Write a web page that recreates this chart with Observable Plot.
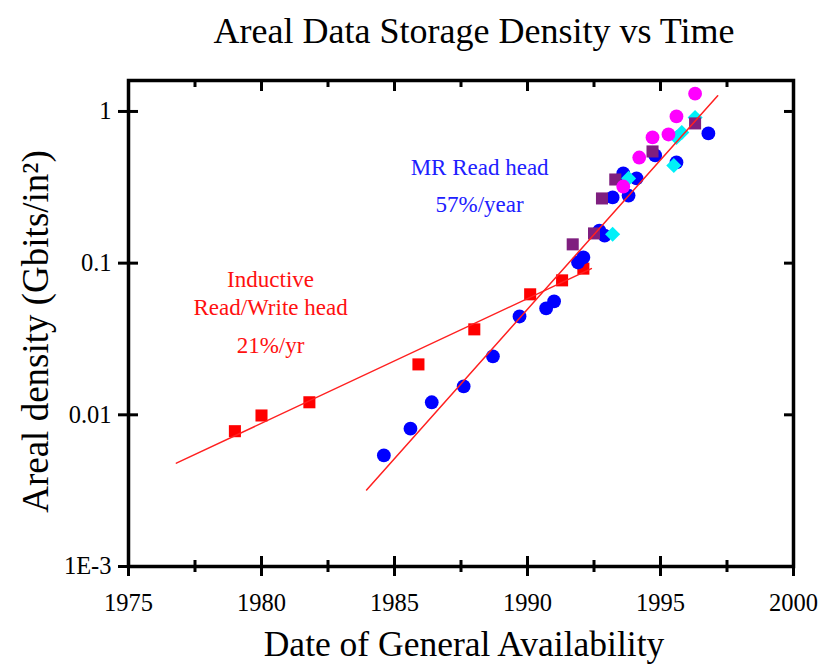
<!DOCTYPE html>
<html><head><meta charset="utf-8">
<script src="https://cdn.jsdelivr.net/npm/d3@7"></script>
<script src="https://cdn.jsdelivr.net/npm/@observablehq/plot@0.6"></script>
<style>
body{margin:0;background:#fff;}
#wrap{width:824px;font-family:"Liberation Serif","Times New Roman",serif;}
#title{height:62px;line-height:62px;font-size:36px;text-align:center;padding-left:124px;box-sizing:border-box;width:824px;color:#000;white-space:nowrap;}
</style></head>
<body><div id="wrap"><div id="title">Areal Data Storage Density vs Time</div><div id="chart"></div></div>
<script>
// ---- data ----
const inductiveYear = [1979.0, 1980.0, 1981.8, 1985.9, 1988.0, 1990.1, 1991.3, 1992.1];
const inductiveDensity = [0.0078, 0.0099, 0.0121, 0.0215, 0.0366, 0.0623, 0.077, 0.092];

const mrYear = [1984.6, 1985.6, 1986.4, 1987.6, 1988.7, 1989.7, 1990.7, 1991.0, 1991.9, 1992.1, 1992.7, 1992.9, 1993.2, 1993.6, 1993.8, 1994.1, 1994.8, 1995.6, 1996.8];
const mrDensity = [0.0054, 0.0081, 0.0121, 0.0154, 0.0243, 0.0445, 0.0503, 0.056, 0.101, 0.109, 0.164, 0.152, 0.271, 0.39, 0.279, 0.362, 0.513, 0.461, 0.716];

const cyanYear = [1993.2, 1993.8, 1995.5, 1995.6, 1995.8, 1996.3];
const cyanDensity = [0.155, 0.362, 0.44, 0.674, 0.727, 0.912];

const purpleYear = [1991.7, 1992.5, 1992.8, 1993.3, 1994.7, 1996.3];
const purpleDensity = [0.133, 0.157, 0.267, 0.356, 0.545, 0.834];

const magentaYear = [1993.6, 1994.2, 1994.7, 1995.3, 1995.6, 1996.3];
const magentaDensity = [0.32, 0.497, 0.674, 0.705, 0.927, 1.31];

// fitted trend lines (end points)
const inductiveFitYear = [1976.8, 1992.4];
const inductiveFitDensity = [0.0048, 0.092];
const mrFitYear = [1983.95, 1997.15];
const mrFitDensity = [0.0032, 1.27];

// annotations
const annoText = ["Inductive", "Read/Write head", "21%/yr", "MR Read head", "57%/year"];
const annoYear = [1980.34, 1980.34, 1980.34, 1988.2, 1988.2];
const annoDensity = [0.0774, 0.0508, 0.0284, 0.424, 0.243];
const annoColor = ["#ff1010", "#ff1010", "#ff1010", "#2020ff", "#2020ff"];

// axis ticks
const xMajor = [1975, 1980, 1985, 1990, 1995, 2000];
const xMinor = [1977.5, 1982.5, 1987.5, 1992.5, 1997.5];
const yMajor = [0.001, 0.01, 0.1, 1];
const yTickLabels = ["1E-3", "0.01", "0.1", "1"];

// ---- build ----
const zip = (xs, ys) => xs.map((x, i) => ({year: x, density: ys[i]}));
const inductive = zip(inductiveYear, inductiveDensity);
const mr = zip(mrYear, mrDensity);
const cyan = zip(cyanYear, cyanDensity);
const purple = zip(purpleYear, purpleDensity);
const magenta = zip(magentaYear, magentaDensity);
const indFit = zip(inductiveFitYear, inductiveFitDensity);
const mrFit = zip(mrFitYear, mrFitDensity);
const annos = annoText.map((t, i) => ({text: t, year: annoYear[i], density: annoDensity[i], color: annoColor[i]}));

const font = "Liberation Serif, Times New Roman, serif";
const blank = () => null;
const tw = 3;

const chart = Plot.plot({
  width: 824, height: 609,
  marginTop: 18, marginBottom: 105, marginLeft: 128, marginRight: 31,
  style: {fontFamily: font, background: "#fff", color: "#000"},
  x: {domain: [1975, 2000]},
  y: {type: "log", domain: [0.001, 1.6]},
  marks: [
    Plot.dot(inductive, {x: "year", y: "density", symbol: "square", r: 6.8, fill: "#ff0000"}),
    Plot.dot(mr, {x: "year", y: "density", symbol: "circle", r: 6.9, fill: "#0000ff"}),
    Plot.dot(cyan, {x: "year", y: "density", symbol: "diamond2", r: 6.8, fill: "#00f0f8"}),
    Plot.dot(purple, {x: "year", y: "density", symbol: "square", r: 6.8, fill: "#7f1f7f"}),
    Plot.dot(magenta, {x: "year", y: "density", symbol: "circle", r: 6.9, fill: "#ff00ff"}),
    Plot.line(indFit, {x: "year", y: "density", stroke: "#ff2020", strokeWidth: 1.5}),
    Plot.line(mrFit, {x: "year", y: "density", stroke: "#ff2020", strokeWidth: 1.5}),
    Plot.text(annos, {x: "year", y: "density", text: "text", fill: "color", fontSize: 23, fontFamily: font}),
    // bottom axis: labels + outward major ticks
    Plot.axisX({anchor: "bottom", ticks: xMajor, tickSize: 10, tickPadding: 17, tickFormat: d => String(d), fontSize: 24.5, strokeWidth: tw, label: null}),
    Plot.axisX({anchor: "bottom", ticks: xMajor, tickSize: 10, dy: -10, tickFormat: blank, strokeWidth: tw, label: null}),
    Plot.axisX({anchor: "bottom", ticks: xMinor, tickSize: 6, tickFormat: blank, strokeWidth: tw, label: null}),
    Plot.axisX({anchor: "bottom", ticks: xMinor, tickSize: 6, dy: -6, tickFormat: blank, strokeWidth: tw, label: null}),
    // top axis: inward ticks
    Plot.axisX({anchor: "top", ticks: xMajor, tickSize: 10, dy: 10, tickFormat: blank, strokeWidth: tw, label: null}),
    Plot.axisX({anchor: "top", ticks: xMinor, tickSize: 6, dy: 6, tickFormat: blank, strokeWidth: tw, label: null}),
    // left axis
    Plot.axisY({anchor: "left", ticks: yMajor, tickSize: 10, tickPadding: 7, tickFormat: d => yTickLabels[yMajor.indexOf(d)], fontSize: 24.5, strokeWidth: tw, label: null}),
    Plot.axisY({anchor: "left", ticks: yMajor, tickSize: 10, dx: 10, tickFormat: blank, strokeWidth: tw, label: null}),
    // right axis: inward ticks
    Plot.axisY({anchor: "right", ticks: yMajor, tickSize: 10, dx: -10, tickFormat: blank, strokeWidth: tw, label: null}),
    Plot.frame({stroke: "#000", strokeWidth: 3.5}),
    Plot.text(["Date of General Availability"], {frameAnchor: "bottom", dy: 89, dx: 3, fontSize: 35.5, fontFamily: font, fill: "#000"}),
    Plot.text(["Areal density (Gbits/in²)"], {frameAnchor: "left", textAnchor: "middle", rotate: -90, dx: -92, dy: 8, fontSize: 37, fontFamily: font, fill: "#000"})
  ]
});
document.getElementById("chart").appendChild(chart);
</script>
</body></html>
